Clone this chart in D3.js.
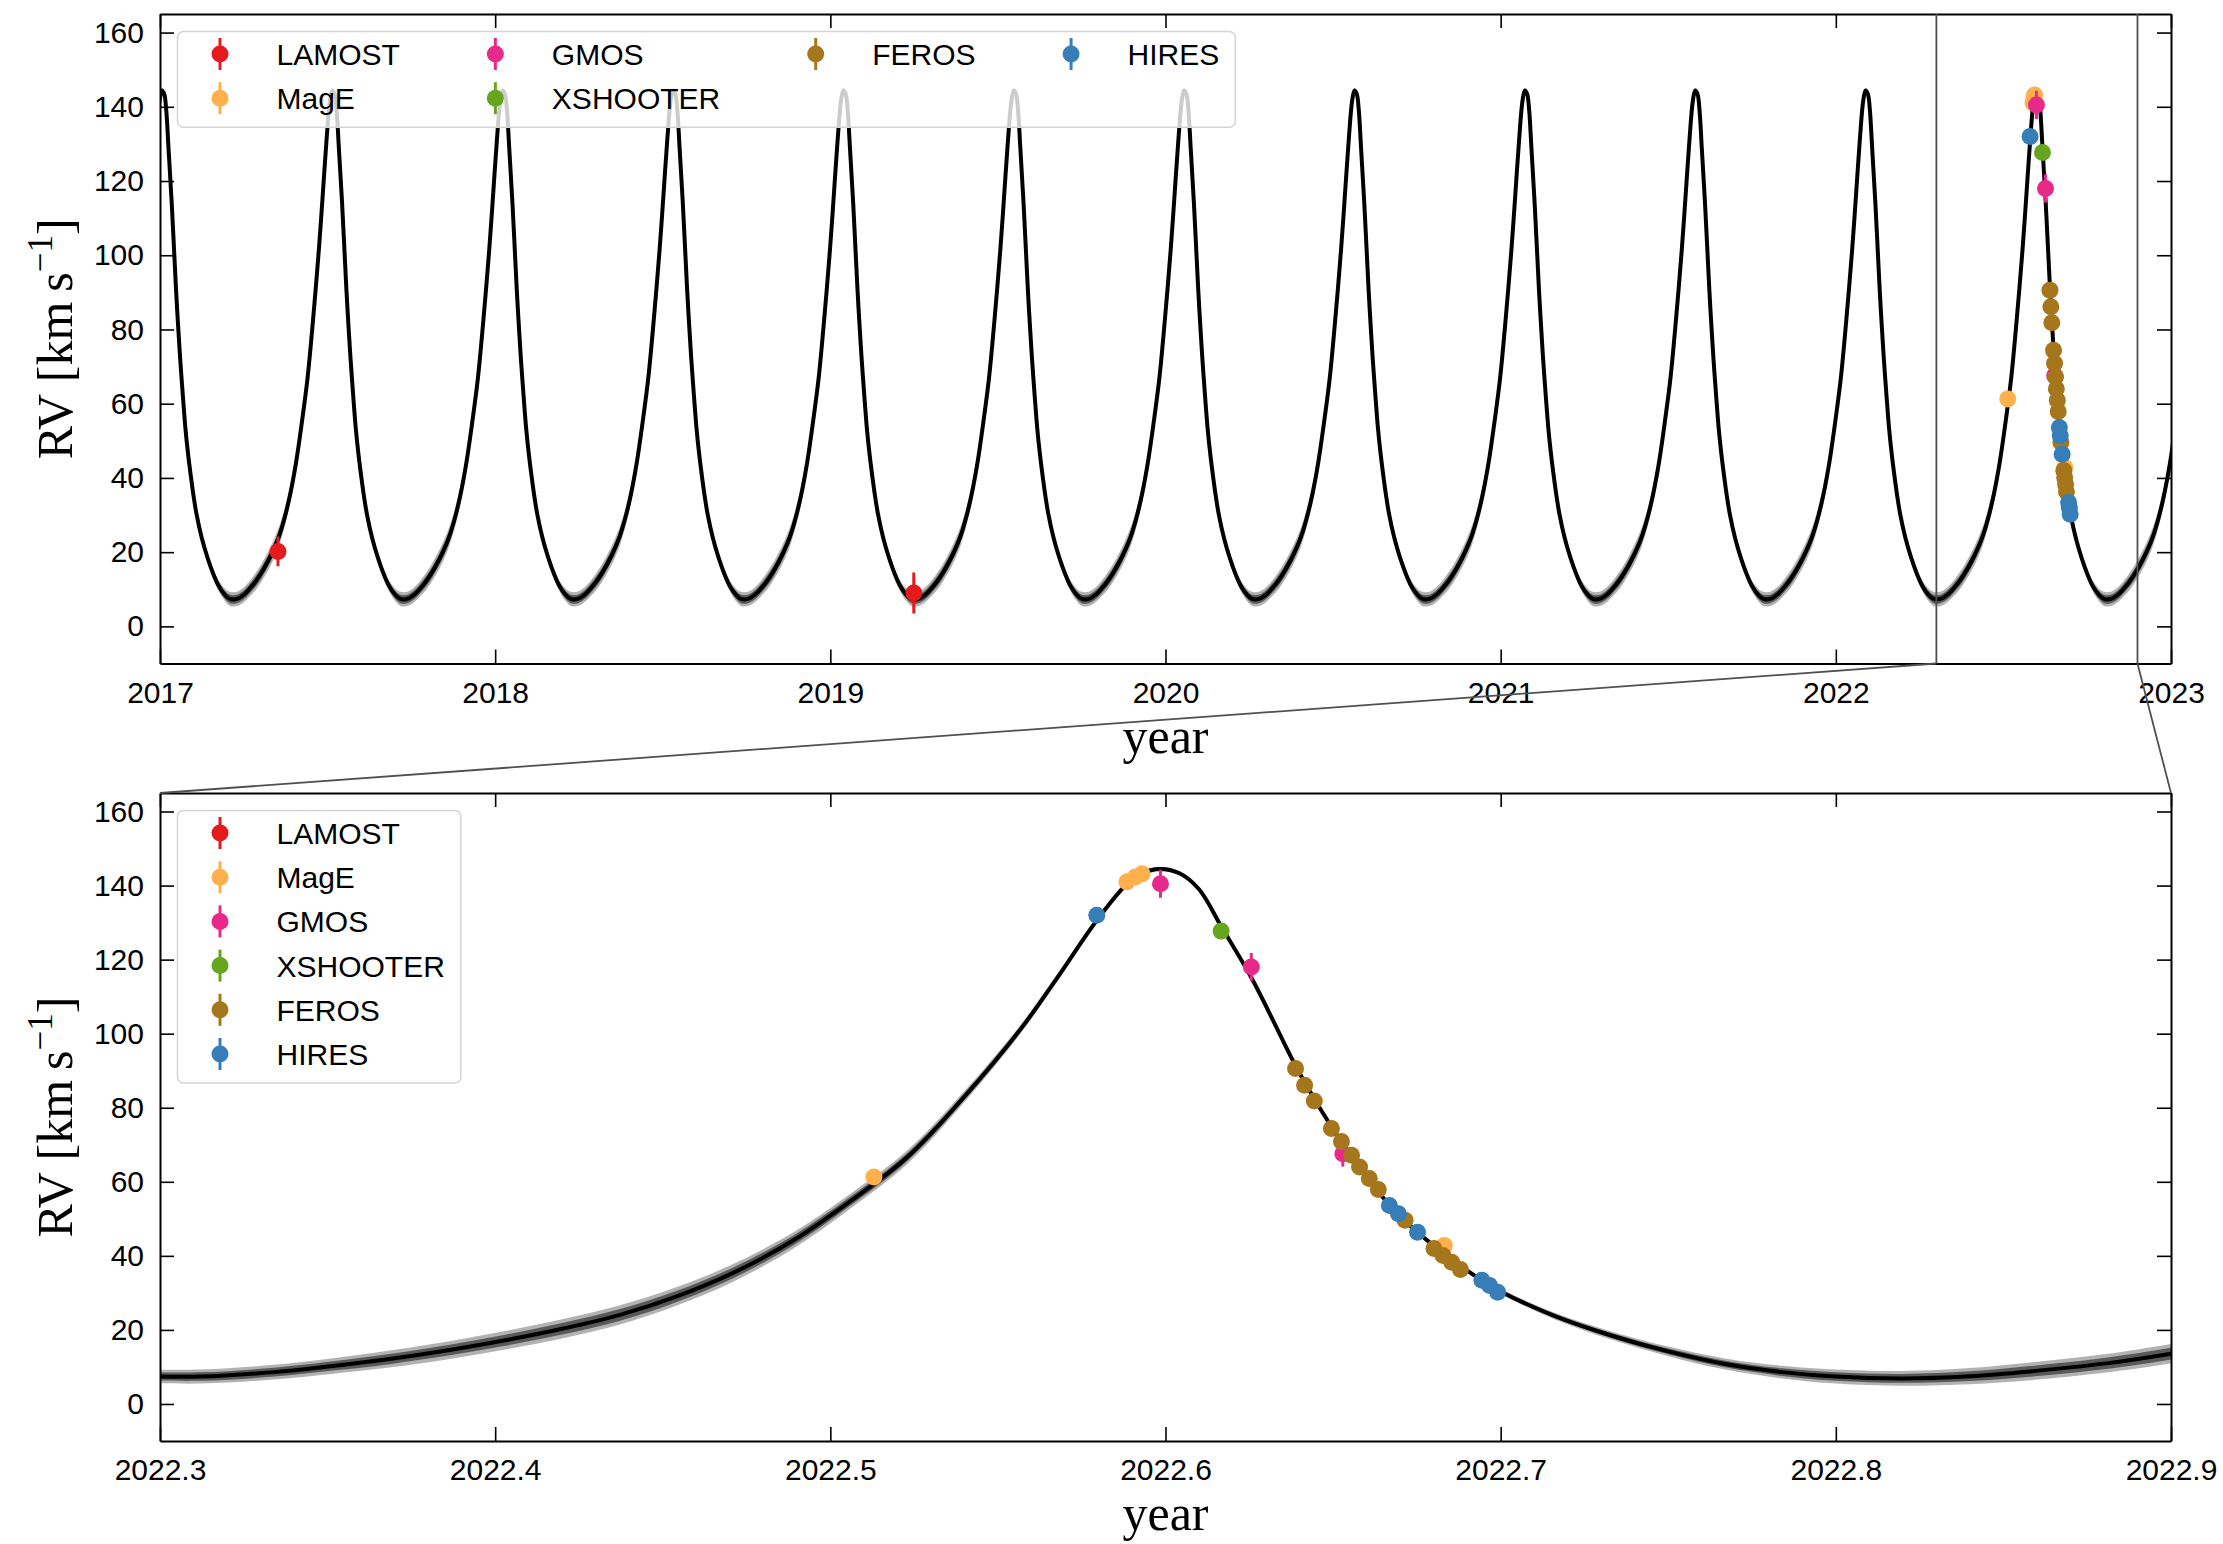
<!DOCTYPE html>
<html>
<head>
<meta charset="utf-8">
<script src="https://cdn.jsdelivr.net/npm/d3@7"></script>
<style>
body { margin: 0; background: #fff; }
text { font-family: "Liberation Sans", Arial, sans-serif; fill: #000; }
</style>
</head>
<body>
<svg id="chart" width="2223" height="1544"></svg>
<script>
// instruments, legend order = drawing order
var instruments = ["LAMOST", "MagE", "GMOS", "XSHOOTER", "FEROS", "HIRES"];
var colors = ["#e41a1c", "#fdb04b", "#e7298a", "#66a61e", "#a6761d", "#377eb8"];

// [year, RV km/s, error]
var lamost = [[2017.352, 20.2, 4.0], [2019.249, 9.0, 5.5]];
var mage = [[2022.513, 61.3, 1.5], [2022.5885, 141.0, 1.5], [2022.5910, 142.3, 1.5], [2022.5930, 143.2, 1.8], [2022.6832, 42.8, 1.5]];
var gmos = [[2022.5985, 140.5, 3.8], [2022.6256, 118.0, 3.8], [2022.6529, 67.6, 3.5]];
var xshooter = [[2022.6166, 127.7, 1.0]];
var feros = [[2022.6388, 90.6, 0.8], [2022.6415, 86.1, 0.8], [2022.6444, 81.8, 0.8], [2022.6495, 74.4, 0.8],
  [2022.6525, 70.9, 0.8], [2022.6555, 67.2, 0.8], [2022.6579, 64.0, 0.8], [2022.6608, 60.9, 0.8],
  [2022.6635, 57.9, 0.8], [2022.6715, 49.6, 0.8], [2022.6801, 42.0, 0.8], [2022.6828, 40.1, 0.8],
  [2022.6854, 38.3, 0.8], [2022.6880, 36.3, 0.8]];
var hires = [[2022.5795, 132.0, 0.8], [2022.6668, 53.6, 0.8], [2022.6695, 51.4, 0.8], [2022.6752, 46.4, 0.8],
  [2022.6944, 33.4, 0.8], [2022.6967, 32.0, 0.8], [2022.6991, 30.2, 0.8]];
var instrumentData = [lamost, mage, gmos, xshooter, feros, hires];

// orbit model (centre and half width of the sample band)
var modelYear = [2022.290, 2022.312, 2022.334, 2022.351, 2022.369, 2022.386, 2022.403, 2022.420, 2022.437, 2022.454,
  2022.471, 2022.489, 2022.506, 2022.523, 2022.540, 2022.557, 2022.568, 2022.580, 2022.590, 2022.597,
  2022.604, 2022.610, 2022.6166, 2022.626, 2022.639, 2022.645, 2022.652, 2022.660, 2022.667, 2022.675,
  2022.684, 2022.692, 2022.700, 2022.716, 2022.733, 2022.750, 2022.767, 2022.784, 2022.800, 2022.820,
  2022.840, 2022.858, 2022.880, 2022.900, 2022.910];
var modelRV = [7.6, 7.4, 8.6, 10.2, 12.2, 14.5, 17.2, 20.3, 24.0, 29.0,
  35.4, 44.2, 54.8, 66.7, 83.0, 101.5, 115.5, 131.2, 141.6, 144.4,
  143.4, 139.0, 129.0, 114.5, 91.0, 81.5, 71.5, 61.5, 53.5, 46.5,
  40.0, 34.8, 30.4, 23.8, 18.5, 14.2, 10.8, 8.6, 7.4, 6.9,
  7.5, 8.8, 10.9, 13.6, 15.3];
var modelSpread = [1.8, 1.9, 2.0, 2.1, 2.3, 2.4, 2.5, 2.6, 2.6, 2.5,
  2.4, 2.2, 2.0, 1.8, 1.5, 1.2, 1.0, 0.8, 0.7, 0.6,
  0.6, 0.5, 0.5, 0.5, 0.5, 0.5, 0.5, 0.5, 0.5, 0.5,
  0.6, 0.6, 0.7, 0.9, 1.1, 1.3, 1.5, 1.7, 1.9, 2.0,
  2.2, 2.4, 2.5, 2.6, 2.6];
var orbitPeriod = 0.5083;   // yr, from peak spacing in the top panel
var cycleStart = 2022.312;  // a minimum of the model

var topRange = [2017, 2023];
var topTicks = [2017, 2018, 2019, 2020, 2021, 2022, 2023];
var zoomRange = [2022.3, 2022.9];
var zoomTicks = [2022.3, 2022.4, 2022.5, 2022.6, 2022.7, 2022.8, 2022.9];
var rvRange = [-10, 165];
var rvTicks = [0, 20, 40, 60, 80, 100, 120, 140, 160];

var svg = d3.select("#chart");
var left = 160, right = 2171;

// matplotlib style: first (n % ncol) columns get one extra entry
function legend_columns(n, ncol){
	var base = Math.floor(n / ncol), extra = n % ncol, cols = [], idx = 0;
	for (var c = 0; c < ncol; c++){
		var size = base + (c < extra ? 1 : 0), col = [];
		for (var j = 0; j < size; j++) col.push(idx++);
		if (col.length) cols.push(col);
	}
	return cols;
}

function draw_panel(p, model, ncol){
	var x = d3.scaleLinear().domain(p.domain).range([left, right]);
	var y = d3.scaleLinear().domain(rvRange).range([p.bottom, p.top]);
	var g = svg.append("g");
	svg.append("clipPath").attr("id", "clip" + p.id)
		.append("rect").attr("x", left).attr("y", p.top).attr("width", right - left).attr("height", p.bottom - p.top);
	var plot = g.append("g").attr("clip-path", "url(#clip" + p.id + ")");

	// sample band, then best line
	var band = function(f){
		return d3.area().curve(d3.curveCatmullRom.alpha(0.5))
			.x(function(d){ return x(d.t); })
			.y0(function(d){ return y(d.rv - f*d.s); })
			.y1(function(d){ return y(d.rv + f*d.s); });
	};
	plot.append("path").datum(model).attr("d", band(1.0)).attr("fill", "#000").attr("fill-opacity", 0.3);
	plot.append("path").datum(model).attr("d", band(0.6)).attr("fill", "#000").attr("fill-opacity", 0.5);
	var line = d3.line().curve(d3.curveCatmullRom.alpha(0.5))
		.x(function(d){ return x(d.t); })
		.y(function(d){ return y(d.rv); });
	plot.append("path").datum(model).attr("d", line).attr("fill", "none")
		.attr("stroke", "#000").attr("stroke-width", 4);

	// data with error bars
	instrumentData.forEach(function(data, i){
		var s = plot.append("g");
		s.selectAll("line").data(data).enter().append("line")
			.attr("x1", function(d){ return x(d[0]); })
			.attr("x2", function(d){ return x(d[0]); })
			.attr("y1", function(d){ return y(d[1] - d[2]); })
			.attr("y2", function(d){ return y(d[1] + d[2]); })
			.attr("stroke", colors[i]).attr("stroke-width", 3);
		s.selectAll("circle").data(data).enter().append("circle")
			.attr("cx", function(d){ return x(d[0]); })
			.attr("cy", function(d){ return y(d[1]); })
			.attr("r", 8.5).attr("fill", colors[i]);
	});

	// axes, ticks inside on all four sides
	g.append("g").attr("transform", "translate(0," + p.bottom + ")")
		.call(d3.axisBottom(x).tickValues(p.ticks).tickFormat(p.fmt).tickSize(-14).tickSizeOuter(0).tickPadding(18));
	g.append("g").attr("transform", "translate(0," + p.top + ")")
		.call(d3.axisTop(x).tickValues(p.ticks).tickFormat("").tickSize(-14).tickSizeOuter(0));
	g.append("g").attr("transform", "translate(" + left + ",0)")
		.call(d3.axisLeft(y).tickValues(rvTicks).tickSize(-14).tickSizeOuter(0).tickPadding(16));
	g.append("g").attr("transform", "translate(" + right + ",0)")
		.call(d3.axisRight(y).tickValues(rvTicks).tickFormat("").tickSize(-14).tickSizeOuter(0));
	g.selectAll(".domain").attr("stroke", "#000").attr("stroke-width", 2);
	g.selectAll(".tick line").attr("stroke", "#000").attr("stroke-width", 1.6);
	g.selectAll(".tick text").style("font-size", "30px").style("font-family", "'Liberation Sans', Arial, sans-serif");

	// axis labels
	var lab = g.append("text")
		.attr("transform", "translate(72," + (p.top + p.bottom)/2 + ") rotate(-90)")
		.attr("text-anchor", "middle")
		.style("font-family", "'Liberation Serif', 'DejaVu Serif', serif").style("font-size", "50px");
	lab.append("tspan").text("RV [km\u2009s");
	lab.append("tspan").attr("dy", -20).style("font-size", "35px").text("\u22121");
	lab.append("tspan").attr("dy", 20).text("]");
	g.append("text").attr("x", (left + right)/2).attr("y", p.bottom + 89)
		.attr("text-anchor", "middle")
		.style("font-family", "'Liberation Serif', 'DejaVu Serif', serif").style("font-size", "50px")
		.text("year");

	// legend
	var lg = g.append("g");
	var box = lg.append("rect");
	var rowGap = 44.2, firstRow = p.top + 40, textOff = 56.5, colGap = 95.5;
	var cols = legend_columns(instruments.length, ncol);
	var colX = left + 60, maxRight = 0, nRows = 0;
	cols.forEach(function(col){
		var widest = 0;
		nRows = Math.max(nRows, col.length);
		col.forEach(function(k, r){
			var cy = firstRow + r*rowGap;
			lg.append("line").attr("x1", colX).attr("x2", colX).attr("y1", cy - 16).attr("y2", cy + 16)
				.attr("stroke", colors[k]).attr("stroke-width", 3);
			lg.append("circle").attr("cx", colX).attr("cy", cy).attr("r", 8.5).attr("fill", colors[k]);
			var t = lg.append("text").attr("x", colX + textOff).attr("y", cy + 11)
				.style("font-size", "30px").text(instruments[k]);
			widest = Math.max(widest, t.node().getComputedTextLength());
		});
		maxRight = colX + textOff + widest;
		colX = maxRight + colGap;
	});
	box.attr("x", left + 17.5).attr("y", p.top + 17.5)
		.attr("width", maxRight + 16 - (left + 17.5))
		.attr("height", firstRow + (nRows - 1)*rowGap + 29 - (p.top + 17.5))
		.attr("rx", 6).attr("fill", "#fff").attr("fill-opacity", 0.8)
		.attr("stroke", "#d4d4d4").attr("stroke-width", 1.5);
	return x;
}

var topPanel = {id: "top", top: 14, bottom: 663.5, domain: topRange, ticks: topTicks, fmt: d3.format("d")};
var zoomPanel = {id: "zoom", top: 793, bottom: 1441, domain: zoomRange, ticks: zoomTicks, fmt: d3.format(".1f")};

// model repeated over every cycle for the long panel
var cycle = [];
modelYear.forEach(function(t, i){
	if (t >= cycleStart && t < cycleStart + orbitPeriod - 0.01) cycle.push(i);
});
var topModel = [];
for (var k = -11; k <= 1; k++){
	cycle.forEach(function(i){
		topModel.push({t: modelYear[i] + k*orbitPeriod, rv: modelRV[i], s: modelSpread[i]});
	});
}
var zoomModel = modelYear.map(function(t, i){ return {t: t, rv: modelRV[i], s: modelSpread[i]}; });

var xTop = draw_panel(topPanel, topModel, 4);
draw_panel(zoomPanel, zoomModel, 1);

// inset indicator and connectors
var ind = svg.append("g").attr("stroke", "#505050").attr("stroke-width", 1.8).attr("fill", "none");
zoomRange.forEach(function(v, i){
	ind.append("line").attr("x1", xTop(v)).attr("x2", xTop(v)).attr("y1", topPanel.top).attr("y2", topPanel.bottom);
	ind.append("line").attr("x1", xTop(v)).attr("y1", topPanel.bottom)
		.attr("x2", i == 0 ? left : right).attr("y2", zoomPanel.top);
});
</script>
</body>
</html>
